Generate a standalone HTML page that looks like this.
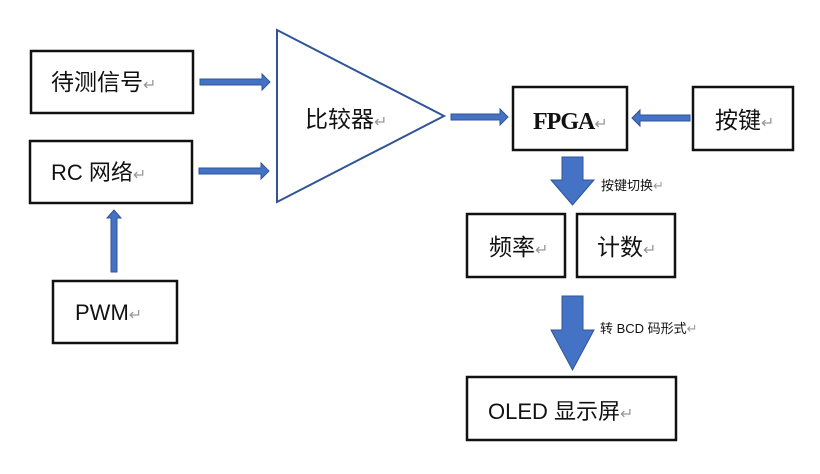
<!DOCTYPE html>
<html><head><meta charset="utf-8"><style>
body{margin:0;background:#fff;}
svg text{font-family:"Liberation Sans","Noto Sans CJK SC",sans-serif;fill:#111;}
.r{fill:#999;font-size:16px}
</style></head><body>
<svg width="820" height="469" viewBox="0 0 820 469" xmlns="http://www.w3.org/2000/svg">
<g fill="none" stroke="#111" stroke-width="2.5">
<rect x="31" y="51" width="162" height="62"/>
<rect x="30" y="141" width="162" height="62"/>
<rect x="53" y="281" width="124" height="62"/>
<rect x="513" y="87" width="114" height="63"/>
<rect x="693" y="87" width="100" height="63"/>
<rect x="467" y="214" width="98" height="63"/>
<rect x="577" y="214" width="98" height="63"/>
<rect x="467" y="377" width="209" height="63"/>
</g>
<polygon points="277,30 277,202 444,116" fill="none" stroke="#2f5597" stroke-width="2"/>
<g fill="#4472c4" stroke="#2f5597" stroke-width="1">
<polygon points="200,79 262,79 262,74 270,82 262,90 262,85 200,85"/>
<polygon points="199,168 261,168 261,163 269,171 261,179 261,174 199,174"/>
<polygon points="451,114 500,114 500,109 508,117 500,125 500,120 451,120"/>
<polygon points="690,115 640,115 640,110 632,118 640,126 640,121 690,121"/>
<polygon points="111,272 111,218 107,218 114,210 121,218 117,218 117,272"/>
<polygon points="562,157 583,157 583,180 594,180 572.5,205 551,180 562,180"/>
<polygon points="562,296 583,296 583,330 594,330 572.5,370 551,330 562,330"/>
</g>
<text x="51" y="90" font-size="23">待测信号<tspan class="r">↵</tspan></text>
<text x="51" y="180" font-size="22">RC 网络<tspan class="r">↵</tspan></text>
<text x="75" y="320" font-size="22">PWM<tspan class="r">↵</tspan></text>
<text x="305" y="127" font-size="23">比较器<tspan class="r">↵</tspan></text>
<text x="533" y="129" font-size="24" style="font-family:'Liberation Serif',serif;font-weight:bold;letter-spacing:-1px">FPGA<tspan class="r" font-weight="normal">↵</tspan></text>
<text x="715" y="128" font-size="23">按键<tspan class="r">↵</tspan></text>
<text x="489" y="255" font-size="23">频率<tspan class="r">↵</tspan></text>
<text x="597" y="255" font-size="23">计数<tspan class="r">↵</tspan></text>
<text x="488" y="419" font-size="22">OLED 显示屏<tspan class="r">↵</tspan></text>
<text x="601" y="190" font-size="13">按键切换<tspan fill="#999">↵</tspan></text>
<text x="600" y="333" font-size="13">转 BCD 码形式<tspan fill="#999">↵</tspan></text>
</svg>
</body></html>
